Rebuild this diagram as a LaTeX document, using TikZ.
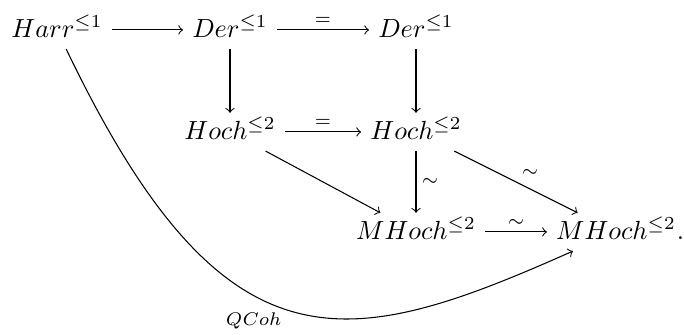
\documentclass[tikz,border=0pt]{standalone}
\usepackage{amsmath}
\usepackage{tikz}
\begin{document}
\begin{tikzpicture}[x=0.0134cm, y=-0.0134cm, >=to,
    obj/.style={anchor=base, text height=1.5ex, text depth=0.25ex},
    lab/.style={font=\scriptsize, inner sep=2pt},
    map/.style={->, line width=0.4pt}]
\useasboundingbox (0,0) rectangle (684,334);

% ---- top row
\node[obj] (harr) at (57,37) {$Harr^{\leq 1}$};
\node[obj] (der1) at (230,37) {$Der^{\leq 1}$};
\node[obj] (der2) at (416,37) {$Der^{\leq 1}$};

% ---- middle row
\node[obj] (hoch1) at (230,139) {$Hoch^{\leq 2}$};
\node[obj] (hoch2) at (416,139) {$Hoch^{\leq 2}$};

% ---- bottom row
\node[obj] (mhoch1) at (416,239) {$MHoch^{\leq 2}$};
\node[obj] (mhoch2) at (616,239) {$MHoch^{\leq 2}$};
\node[anchor=base west, inner sep=0pt] (dot) at ([xshift=-3.3pt]mhoch2.base east) {$.$};

% ---- maps
\draw[map] (harr) -- (der1);
\draw[map] (der1) -- node[lab, above] {$=$} (der2);
\draw[map] (der1) -- (hoch1);
\draw[map] (der2) -- (hoch2);
\draw[map] (hoch1) -- node[lab, above] {$=$} (hoch2);
\draw[map] (hoch1) -- (mhoch1);
\draw[map] (hoch2) -- node[lab, right] {$\sim$} (mhoch1);
\draw[map] (hoch2) -- node[lab, above right] {$\sim$} (mhoch2);
\draw[map] (mhoch1) -- node[lab, above] {$\sim$} (mhoch2);

% ---- the long one round the bottom
\draw[map] (harr) .. controls +(168,350) and +(-270,120) .. node[lab, inner sep=1pt, pos=0.48, anchor=north east] {$QCoh$} (mhoch2);
\end{tikzpicture}
\end{document}
